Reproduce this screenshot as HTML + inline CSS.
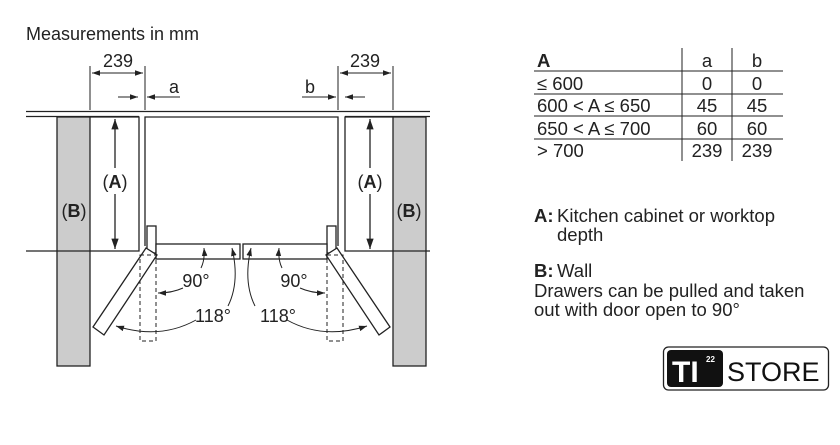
<!DOCTYPE html>
<html><head><style>
body{margin:0;background:#fff;width:840px;height:440px;overflow:hidden;font-family:"Liberation Sans",sans-serif;}
</style></head><body>
<svg width="840" height="440" viewBox="0 0 840 440" xmlns="http://www.w3.org/2000/svg" font-family="Liberation Sans, sans-serif" fill="none" stroke="#222" stroke-width="1.3">
<defs>
<marker id="ar" viewBox="0 0 10 10" refX="10" refY="5" markerWidth="8" markerHeight="8" orient="auto-start-reverse"><path d="M0,1.5 L10,5 L0,8.5z" fill="#222" stroke="none"/></marker>
</defs>
<text x="26" y="40" font-size="18" fill="#222" stroke="none">Measurements in mm</text>
<!-- worktop -->
<line x1="26" y1="111.5" x2="430" y2="111.5"/>
<line x1="26" y1="116.5" x2="139" y2="116.5"/>
<line x1="345" y1="116.5" x2="430" y2="116.5"/>
<!-- walls -->
<rect x="57" y="117" width="33" height="249" fill="#ccc"/>
<rect x="393" y="117" width="33" height="249" fill="#ccc"/>
<!-- cabinets -->
<path d="M90,117 H139 V251 H26"/>
<path d="M393,117 H345 V251 H430"/>
<!-- fridge body -->
<path d="M145,246 V117 H338 V246"/>
<rect x="147" y="226" width="9" height="27" fill="#fff"/>
<rect x="327" y="226" width="9" height="27" fill="#fff"/>
<rect x="156" y="244" width="84" height="15" fill="#fff"/>
<rect x="243" y="244" width="84" height="15" fill="#fff"/>
<!-- open doors -->
<polygon points="146,248 157,255 104,335 93,327" fill="#fff"/>
<polygon points="337,248 326,255 379,335 390,327" fill="#fff"/>
<g stroke-dasharray="4,3" stroke-width="1">
<rect x="140" y="255" width="16" height="86"/>
<rect x="327" y="255" width="16" height="86"/>
</g>
<!-- A arrows -->
<line x1="115" y1="119" x2="115" y2="168" marker-start="url(#ar)"/>
<line x1="115" y1="194" x2="115" y2="249" marker-end="url(#ar)"/>
<line x1="370" y1="119" x2="370" y2="168" marker-start="url(#ar)"/>
<line x1="370" y1="194" x2="370" y2="249" marker-end="url(#ar)"/>
<g fill="#222" stroke="none" font-size="18">
<text x="115" y="188" text-anchor="middle">(<tspan font-weight="bold">A</tspan>)</text>
<text x="370" y="188" text-anchor="middle">(<tspan font-weight="bold">A</tspan>)</text>
<text x="74" y="217" text-anchor="middle">(<tspan font-weight="bold">B</tspan>)</text>
<text x="409" y="217" text-anchor="middle">(<tspan font-weight="bold">B</tspan>)</text>
</g>
<!-- dimensions -->
<g stroke-width="1">
<line x1="90" y1="66" x2="90" y2="110"/><line x1="145" y1="66" x2="145" y2="110"/>
<line x1="338" y1="66" x2="338" y2="110"/><line x1="393" y1="66" x2="393" y2="110"/>
<line x1="92" y1="73" x2="143" y2="73" marker-start="url(#ar)" marker-end="url(#ar)"/>
<line x1="340" y1="73" x2="391" y2="73" marker-start="url(#ar)" marker-end="url(#ar)"/>
<line x1="118" y1="97" x2="138" y2="97" marker-end="url(#ar)"/>
<line x1="180" y1="97" x2="147" y2="97" marker-end="url(#ar)"/>
<line x1="302" y1="97" x2="336" y2="97" marker-end="url(#ar)"/>
<line x1="365" y1="97" x2="345" y2="97" marker-end="url(#ar)"/>
</g>
<g fill="#222" stroke="none" font-size="18">
<text x="118" y="67" text-anchor="middle">239</text>
<text x="365" y="67" text-anchor="middle">239</text>
<text x="174" y="93" text-anchor="middle">a</text>
<text x="310" y="93" text-anchor="middle">b</text>
</g>
<!-- angle arcs -->
<g stroke-width="1">
<path d="M201,268 Q205,260 204,248" marker-end="url(#ar)"/>
<path d="M183,288 Q172,293 158,293" marker-end="url(#ar)"/>
<path d="M228,306 Q240,282 232,248" marker-end="url(#ar)"/>
<path d="M196,320 Q160,340 116,326" marker-end="url(#ar)"/>
<path d="M282,268 Q278,260 279,248" marker-end="url(#ar)"/>
<path d="M300,288 Q311,293 325,293" marker-end="url(#ar)"/>
<path d="M255,306 Q243,282 251,248" marker-end="url(#ar)"/>
<path d="M287,320 Q323,340 367,326" marker-end="url(#ar)"/>
</g>
<g fill="#222" stroke="none" font-size="18">
<text x="196" y="287" text-anchor="middle">90°</text>
<text x="294" y="287" text-anchor="middle">90°</text>
<text x="213" y="322" text-anchor="middle">118°</text>
<text x="278" y="322" text-anchor="middle">118°</text>
</g>
<!-- table -->
<g stroke-width="1">
<line x1="534" y1="71" x2="783" y2="71"/>
<line x1="534" y1="94" x2="783" y2="94"/>
<line x1="534" y1="116" x2="783" y2="116"/>
<line x1="534" y1="139" x2="783" y2="139"/>
<line x1="682" y1="48" x2="682" y2="161"/>
<line x1="732" y1="48" x2="732" y2="161"/>
</g>
<g fill="#222" stroke="none" font-size="18.5">
<text x="537" y="67" font-weight="bold">A</text>
<text x="707" y="67" text-anchor="middle">a</text><text x="757" y="67" text-anchor="middle">b</text>
<text x="537" y="90">≤ 600</text><text x="707" y="90" text-anchor="middle">0</text><text x="757" y="90" text-anchor="middle">0</text>
<text x="537" y="112">600 &lt; A ≤ 650</text><text x="707" y="112" text-anchor="middle">45</text><text x="757" y="112" text-anchor="middle">45</text>
<text x="537" y="135">650 &lt; A ≤ 700</text><text x="707" y="135" text-anchor="middle">60</text><text x="757" y="135" text-anchor="middle">60</text>
<text x="537" y="157">&gt; 700</text><text x="707" y="157" text-anchor="middle">239</text><text x="757" y="157" text-anchor="middle">239</text>
<text x="534" y="222" font-weight="bold">A:</text><text x="557" y="222">Kitchen cabinet or worktop</text>
<text x="557" y="241">depth</text>
<text x="534" y="277" font-weight="bold">B:</text><text x="557" y="277">Wall</text>
<text x="534" y="297">Drawers can be pulled and taken</text>
<text x="534" y="316">out with door open to 90°</text>
</g>
<!-- logo -->
<rect x="663.5" y="347" width="165" height="43" rx="5" stroke-width="1.3"/>
<rect x="667" y="350" width="56" height="37" rx="4" fill="#111" stroke="none"/>
<g stroke="none">
<text x="672" y="382" font-size="30" font-weight="bold" fill="#fff">TI</text>
<text x="706" y="362" font-size="8" font-weight="bold" fill="#fff">22</text>
<text x="727" y="381" font-size="27" fill="#111">STORE</text>
</g>
</svg>
</body></html>
